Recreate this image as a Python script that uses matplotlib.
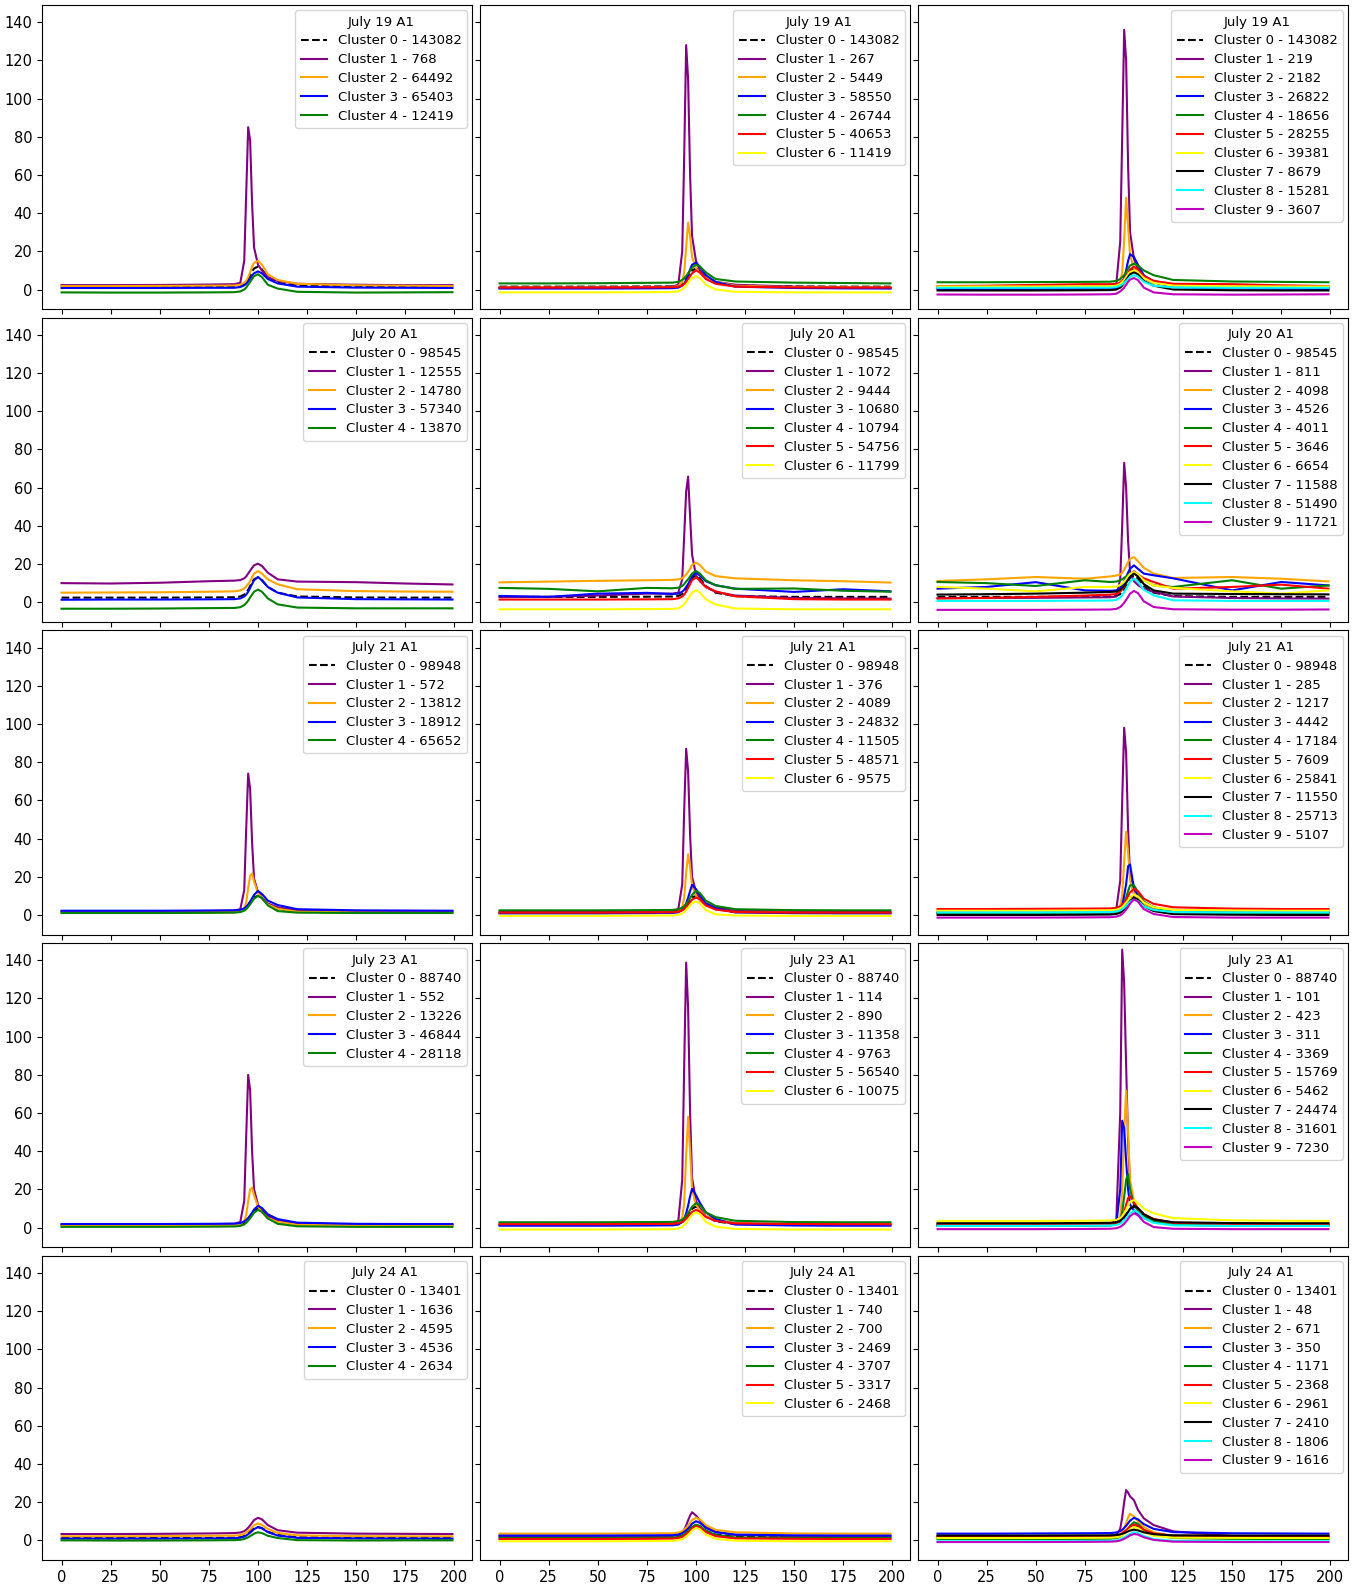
import matplotlib
matplotlib.use("Agg")
import matplotlib.pyplot as plt

# sample positions along the trace (same for every curve)
X = [0, 25, 50, 75, 88, 91, 93, 94, 95, 96, 97, 98, 100, 102, 105, 110, 120, 150, 175, 199]

DAYS = ["July 19 A1", "July 20 A1", "July 21 A1", "July 23 A1", "July 24 A1"]
COLORS = ["black", "purple", "orange", "blue", "green", "red", "yellow", "black", "cyan", "m"]

# ---- July 19 ----
jul19_k5_counts = [143082, 768, 64492, 65403, 12419]
jul19_k5 = [
    [1.5, 1.5, 1.5, 1.6, 1.6, 2.0, 3.0, 4.0, 5.5, 7.5, 9.5, 11.0, 12.0, 10.5, 6.5, 3.5, 2.0, 1.6, 1.5, 1.5],
    [2.3, 2.3, 2.4, 2.6, 2.8, 3.5, 15, 50, 85, 78, 45, 22, 13, 10, 6.5, 4.5, 3.0, 2.5, 2.3, 2.3],
    [1.8, 1.8, 1.9, 2.0, 2.1, 2.5, 3.5, 4.5, 6.5, 9.0, 12.0, 14.0, 15.0, 13.0, 8.0, 5.0, 3.0, 2.2, 2.0, 1.8],
    [0.8, 0.8, 0.8, 0.9, 0.9, 1.3, 2.2, 3.0, 4.3, 5.8, 7.3, 8.5, 9.5, 8.5, 5.5, 3.2, 1.5, 1.0, 0.9, 0.8],
    [-1.5, -1.6, -1.6, -1.5, -1.4, -1.0, 0.0, 1.0, 2.5, 4.0, 5.5, 7.0, 8.0, 6.5, 2.5, 0.5, -1.2, -1.6, -1.5, -1.4],
]
jul19_k7_counts = [143082, 267, 5449, 58550, 26744, 40653, 11419]
jul19_k7 = [
    [1.5, 1.5, 1.5, 1.6, 1.6, 2.0, 3.0, 4.0, 5.5, 7.0, 8.5, 10.0, 11.0, 9.5, 6.0, 3.5, 2.0, 1.6, 1.5, 1.5],
    [1.0, 1.0, 1.1, 1.3, 1.5, 2.5, 20, 70, 128, 110, 60, 28, 15, 10, 6, 4, 2.5, 1.5, 1.2, 1.0],
    [1.0, 1.0, 1.0, 1.1, 1.2, 1.8, 4.0, 9.0, 22, 35, 28, 17, 11, 8.5, 6.0, 4.0, 2.0, 1.2, 1.1, 1.0],
    [0.5, 0.5, 0.5, 0.6, 0.7, 1.0, 2.0, 3.0, 5.0, 7.5, 10.5, 13.0, 14.0, 12.0, 7.5, 4.0, 1.5, 0.8, 0.6, 0.5],
    [3.2, 3.2, 3.3, 3.5, 3.6, 4.0, 5.0, 6.0, 7.0, 8.5, 10.0, 11.5, 13.0, 12.0, 9.0, 5.5, 4.2, 3.6, 3.4, 3.2],
    [1.0, 1.0, 1.0, 1.1, 1.2, 1.5, 2.2, 3.0, 4.0, 5.5, 7.0, 8.5, 10.0, 9.0, 5.5, 3.0, 1.5, 1.1, 1.0, 1.0],
    [-1.5, -1.5, -1.5, -1.4, -1.3, -1.0, 0.0, 1.0, 2.0, 3.5, 5.0, 6.0, 7.0, 6.0, 2.5, 0.0, -1.2, -1.5, -1.5, -1.5],
]
jul19_k10_counts = [143082, 219, 2182, 26822, 18656, 28255, 39381, 8679, 15281, 3607]
jul19_k10 = [
    [1.5, 1.5, 1.5, 1.6, 1.6, 2.0, 3.0, 4.0, 5.5, 7.0, 8.5, 10.0, 11.0, 9.5, 6.0, 3.5, 2.0, 1.6, 1.5, 1.5],
    [1.2, 1.2, 1.3, 1.5, 1.7, 3.0, 25, 80, 136, 120, 65, 30, 16, 11, 7, 4.5, 2.5, 1.6, 1.3, 1.2],
    [1.5, 1.5, 1.5, 1.6, 1.7, 2.2, 4.0, 9.0, 26, 48, 33, 18, 11, 8.5, 6.0, 4.0, 2.2, 1.6, 1.5, 1.5],
    [0.3, 0.3, 0.3, 0.4, 0.5, 0.8, 2.0, 3.5, 6.0, 10.0, 15.0, 18.5, 17.0, 13.0, 7.5, 4.0, 1.2, 0.5, 0.4, 0.3],
    [3.8, 3.8, 3.9, 4.0, 4.1, 4.5, 5.5, 6.5, 7.5, 9.0, 11.0, 12.5, 13.6, 12.5, 10.0, 7.5, 5.0, 4.2, 4.0, 3.8],
    [1.8, 2.0, 2.4, 2.8, 2.8, 3.0, 3.6, 4.3, 5.5, 7.0, 8.5, 10.5, 12.0, 10.5, 7.0, 4.5, 3.0, 2.8, 2.2, 1.8],
    [1.6, 1.6, 1.6, 1.7, 1.7, 2.0, 3.0, 3.8, 5.0, 6.5, 8.0, 9.2, 10.0, 9.0, 6.0, 3.5, 2.0, 1.7, 1.6, 1.6],
    [-0.5, -0.5, -0.5, -0.4, -0.3, 0.0, 1.0, 2.0, 3.5, 5.0, 6.5, 8.0, 9.0, 8.0, 4.5, 2.0, 0.0, -0.4, -0.5, -0.5],
    [0.9, 0.9, 0.9, 1.0, 1.0, 1.3, 2.0, 2.7, 3.5, 4.5, 5.5, 6.7, 7.5, 6.8, 4.0, 2.0, 1.1, 0.9, 0.9, 0.9],
    [-2.6, -2.7, -2.7, -2.6, -2.5, -2.2, -1.0, 0.0, 1.0, 2.5, 4.0, 5.2, 6.0, 5.0, 1.0, -1.5, -2.5, -2.7, -2.6, -2.5],
]

# ---- July 20 ----
jul20_k5_counts = [98545, 12555, 14780, 57340, 13870]
jul20_k5 = [
    [2.4, 2.4, 2.4, 2.5, 2.6, 3.0, 4.0, 5.0, 6.5, 8.5, 10.5, 12.0, 13.0, 11.5, 8.0, 5.0, 3.0, 2.5, 2.4, 2.4],
    [10.0, 9.8, 10.2, 11.0, 11.3, 11.6, 12.5, 13.5, 15.0, 16.5, 18.0, 19.3, 20.2, 19.0, 15.5, 12.0, 10.8, 10.5, 9.8, 9.3],
    [5.0, 5.1, 5.2, 5.5, 5.7, 6.2, 7.2, 8.2, 9.5, 11.0, 13.0, 15.0, 16.3, 15.0, 12.0, 9.4, 6.8, 5.8, 5.6, 5.5],
    [1.3, 1.4, 1.4, 1.5, 1.6, 2.0, 3.0, 4.0, 5.5, 7.5, 9.5, 11.5, 13.2, 11.5, 8.0, 5.0, 2.5, 1.6, 1.5, 1.4],
    [-3.4, -3.4, -3.3, -3.1, -3.0, -2.6, -1.5, -0.5, 0.8, 2.5, 4.0, 5.5, 6.6, 5.5, 2.0, -1.1, -2.8, -3.2, -3.2, -3.2],
]
jul20_k7_counts = [98545, 1072, 9444, 10680, 10794, 54756, 11799]
jul20_k7 = [
    [2.8, 2.8, 2.8, 2.9, 3.0, 3.3, 4.3, 5.5, 7.0, 9.0, 11.0, 12.8, 14.0, 12.5, 8.5, 5.0, 3.2, 2.8, 2.8, 2.8],
    [2.7, 2.8, 3.5, 4.5, 4.5, 5.0, 12, 35, 58, 65.8, 45, 25, 14, 11, 8, 5.4, 3.5, 2.2, 2.0, 1.9],
    [10.4, 10.8, 11.2, 11.5, 11.7, 12.0, 12.5, 13.5, 14.5, 16.0, 17.5, 19.5, 20.7, 19.5, 16.0, 13.7, 12.5, 11.5, 11.0, 10.3],
    [3.3, 2.8, 4.5, 4.9, 4.3, 4.5, 5.5, 6.5, 8.0, 9.5, 11.5, 13.5, 15.5, 14.0, 11.0, 8.9, 7.1, 5.4, 6.8, 5.7],
    [7.5, 7.0, 5.7, 7.5, 7.3, 7.6, 8.5, 9.5, 10.8, 12.0, 13.5, 15.0, 16.4, 15.0, 11.5, 8.9, 7.0, 7.2, 6.0, 5.5],
    [1.4, 1.4, 1.4, 1.5, 1.6, 2.0, 3.0, 4.0, 5.5, 7.5, 9.5, 11.5, 13.0, 11.5, 8.0, 5.7, 3.1, 1.6, 1.4, 1.4],
    [-3.7, -3.7, -3.7, -3.6, -3.5, -3.2, -2.0, -1.0, 0.5, 2.0, 3.5, 5.0, 6.3, 5.0, 1.5, -1.2, -3.3, -3.7, -3.7, -3.7],
]
jul20_k10_counts = [98545, 811, 4098, 4526, 4011, 3646, 6654, 11588, 51490, 11721]
jul20_k10 = [
    [2.8, 2.8, 2.8, 2.9, 3.0, 3.3, 4.3, 5.5, 7.0, 9.0, 11.0, 12.8, 14.0, 12.5, 8.5, 5.0, 3.2, 2.8, 2.8, 2.8],
    [2.2, 2.2, 2.3, 2.5, 2.6, 3.0, 12, 40, 73, 60, 32, 16, 11, 9, 7, 5.4, 3.0, 2.2, 2.0, 1.9],
    [11.1, 12.0, 13.2, 12.3, 13.5, 14.0, 14.5, 15.5, 17.0, 19.0, 21.0, 22.8, 23.6, 21.5, 18.0, 15.0, 12.7, 13.2, 12.3, 10.9],
    [7.1, 8.0, 10.5, 6.2, 6.0, 6.2, 7.5, 9.0, 11.0, 13.0, 15.5, 17.5, 19.3, 17.5, 15.0, 14.1, 12.5, 6.2, 10.6, 8.8],
    [10.6, 10.0, 8.5, 11.5, 10.6, 10.8, 11.5, 12.0, 12.8, 13.5, 14.3, 15.0, 15.8, 14.5, 11.5, 8.8, 8.0, 11.5, 7.1, 8.8],
    [1.9, 2.3, 2.8, 3.5, 4.0, 4.3, 5.5, 6.8, 8.3, 10.0, 12.0, 14.0, 16.2, 14.5, 12.5, 10.6, 7.1, 8.0, 9.2, 7.1],
    [8.0, 7.1, 5.7, 8.0, 8.0, 8.2, 9.0, 9.8, 10.8, 12.0, 13.5, 14.8, 15.8, 14.5, 11.5, 8.8, 7.5, 5.7, 4.5, 6.2],
    [4.0, 4.2, 4.5, 5.0, 5.4, 5.6, 6.5, 7.5, 8.8, 10.2, 11.8, 13.3, 15.0, 13.5, 9.5, 6.2, 4.5, 4.3, 4.2, 4.1],
    [0.7, 0.7, 0.7, 0.8, 0.9, 1.2, 2.5, 3.8, 5.3, 7.0, 8.8, 10.8, 12.3, 10.8, 6.5, 3.6, 1.0, 0.7, 0.7, 0.7],
    [-4.0, -4.0, -4.0, -3.9, -3.8, -3.5, -2.5, -1.5, -0.3, 1.2, 2.8, 4.5, 5.9, 4.8, 0.5, -2.5, -3.7, -3.9, -3.9, -3.8],
]

# ---- July 21 ----
jul21_k5_counts = [98948, 572, 13812, 18912, 65652]
jul21_k5 = [
    [1.4, 1.4, 1.4, 1.5, 1.6, 1.9, 2.7, 3.5, 4.8, 6.3, 7.8, 9.2, 10.0, 9.0, 5.5, 3.0, 1.8, 1.5, 1.4, 1.4],
    [1.8, 1.8, 1.9, 2.1, 2.3, 3.0, 13, 45, 74, 66, 38, 19, 12, 9, 6, 4, 2.5, 2.0, 1.9, 1.8],
    [1.2, 1.2, 1.2, 1.3, 1.4, 1.8, 3.5, 6.5, 14, 20.5, 21.7, 17.5, 11.5, 8.5, 5.5, 3.2, 1.7, 1.3, 1.2, 1.2],
    [2.2, 2.2, 2.2, 2.3, 2.4, 2.7, 3.5, 4.3, 5.5, 7.0, 8.7, 10.5, 12.6, 11.0, 7.5, 5.2, 3.0, 2.4, 2.3, 2.2],
    [1.0, 1.0, 1.0, 1.1, 1.2, 1.5, 2.2, 3.0, 4.2, 5.5, 7.0, 8.5, 10.0, 8.8, 5.0, 2.0, 1.2, 1.0, 1.0, 1.0],
]
jul21_k7_counts = [98948, 376, 4089, 24832, 11505, 48571, 9575]
jul21_k7 = [
    [1.5, 1.5, 1.5, 1.6, 1.7, 2.0, 2.8, 3.6, 4.9, 6.4, 7.9, 9.2, 10.0, 9.0, 5.5, 3.0, 1.9, 1.6, 1.5, 1.5],
    [1.5, 1.5, 1.6, 1.8, 2.0, 3.0, 16, 55, 87, 75, 42, 20, 12, 9, 6, 4, 2.3, 1.7, 1.6, 1.5],
    [1.0, 1.0, 1.0, 1.1, 1.2, 1.7, 4.0, 9.0, 22, 31.8, 25, 15, 10, 7.5, 5, 3, 1.5, 1.1, 1.0, 1.0],
    [0.8, 0.8, 0.8, 0.9, 1.0, 1.4, 2.5, 3.8, 6.0, 9.0, 12.5, 15.7, 13.5, 10.5, 6.0, 3.5, 1.3, 0.9, 0.8, 0.8],
    [2.4, 2.4, 2.4, 2.5, 2.6, 3.0, 3.8, 4.6, 5.8, 7.2, 8.8, 10.5, 12.6, 11.5, 7.5, 4.7, 3.0, 2.5, 2.4, 2.4],
    [1.2, 1.2, 1.2, 1.3, 1.4, 1.7, 2.4, 3.1, 4.2, 5.4, 6.7, 8.0, 9.1, 8.2, 5.0, 2.8, 1.5, 1.2, 1.2, 1.2],
    [-0.5, -0.5, -0.5, -0.4, -0.3, 0.0, 0.8, 1.6, 2.7, 3.8, 5.0, 6.2, 7.0, 6.0, 2.5, 0.3, -0.3, -0.5, -0.5, -0.5],
]
jul21_k10_counts = [98948, 285, 1217, 4442, 17184, 7609, 25841, 11550, 25713, 5107]
jul21_k10 = [
    [1.5, 1.5, 1.5, 1.6, 1.7, 2.0, 2.8, 3.6, 4.9, 6.4, 7.9, 9.2, 10.0, 9.0, 5.5, 3.0, 1.9, 1.6, 1.5, 1.5],
    [1.5, 1.5, 1.6, 1.8, 2.0, 3.0, 18, 60, 98, 85, 45, 20, 11, 8, 5, 3.5, 2.2, 1.7, 1.6, 1.5],
    [2.2, 2.2, 2.2, 2.3, 2.4, 3.0, 5.0, 10, 28, 43.5, 33, 18, 11, 8, 5.5, 3.8, 2.6, 2.3, 2.2, 2.2],
    [1.0, 1.0, 1.0, 1.1, 1.2, 1.6, 3.0, 5.0, 10, 16, 25.5, 26.4, 14, 10, 6.5, 4.0, 1.5, 1.1, 1.0, 1.0],
    [1.0, 1.0, 1.0, 1.1, 1.2, 1.5, 2.5, 3.8, 6.0, 9.0, 12.5, 15.5, 15.5, 12.0, 7.0, 4.0, 1.5, 1.1, 1.0, 1.0],
    [3.1, 3.1, 3.2, 3.3, 3.4, 3.7, 4.5, 5.3, 6.5, 8.0, 9.8, 11.8, 13.6, 12.5, 8.5, 5.8, 4.0, 3.3, 3.1, 3.1],
    [2.2, 2.2, 2.2, 2.3, 2.4, 2.7, 3.4, 4.1, 5.2, 6.4, 7.7, 9.2, 10.7, 9.7, 6.5, 4.0, 2.6, 2.3, 2.2, 2.2],
    [0.0, 0.0, 0.0, 0.1, 0.2, 0.5, 1.2, 2.0, 3.0, 4.2, 5.5, 7.3, 9.0, 8.0, 4.5, 2.0, 0.4, 0.1, 0.0, 0.0],
    [1.3, 1.3, 1.3, 1.4, 1.5, 1.8, 2.4, 3.0, 3.8, 4.8, 5.8, 7.0, 8.0, 7.2, 4.5, 2.6, 1.5, 1.3, 1.3, 1.3],
    [-1.4, -1.4, -1.4, -1.3, -1.2, -0.9, -0.2, 0.5, 1.6, 2.8, 4.2, 6.0, 8.1, 7.0, 3.0, 0.5, -1.1, -1.4, -1.4, -1.4],
]

# ---- July 23 ----
jul23_k5_counts = [88740, 552, 13226, 46844, 28118]
jul23_k5 = [
    [1.2, 1.2, 1.2, 1.3, 1.4, 1.7, 2.5, 3.3, 4.5, 6.0, 7.5, 9.0, 10.0, 9.0, 5.5, 3.0, 1.6, 1.3, 1.2, 1.2],
    [1.5, 1.5, 1.6, 1.8, 2.0, 3.0, 14, 48, 80, 72, 40, 20, 12, 9, 6, 4, 2.2, 1.7, 1.6, 1.5],
    [1.0, 1.0, 1.0, 1.1, 1.2, 1.7, 3.5, 6.5, 14, 20, 21, 17, 11, 8, 5, 3, 1.5, 1.1, 1.0, 1.0],
    [1.9, 1.9, 1.9, 2.0, 2.1, 2.4, 3.2, 4.0, 5.0, 6.3, 7.8, 9.5, 11.4, 10.3, 7.0, 4.5, 2.6, 2.0, 1.9, 1.9],
    [0.4, 0.4, 0.4, 0.5, 0.6, 0.9, 1.7, 2.5, 3.6, 4.9, 6.3, 7.8, 9.3, 8.3, 4.8, 2.0, 0.7, 0.4, 0.4, 0.4],
]
jul23_k7_counts = [88740, 114, 890, 11358, 9763, 56540, 10075]
jul23_k7 = [
    [1.5, 1.5, 1.5, 1.6, 1.7, 2.0, 2.9, 3.8, 5.2, 6.8, 8.4, 9.9, 11.0, 9.8, 6.0, 3.3, 1.9, 1.6, 1.5, 1.5],
    [1.5, 1.5, 1.6, 1.8, 2.0, 3.5, 25, 85, 138.8, 115, 60, 26, 14, 10, 6, 4, 2.3, 1.7, 1.6, 1.5],
    [1.5, 1.5, 1.5, 1.6, 1.7, 2.3, 5.0, 13, 38, 58, 40, 20, 12, 9, 6, 4, 2.2, 1.6, 1.5, 1.5],
    [1.0, 1.0, 1.0, 1.1, 1.2, 1.6, 3.0, 4.5, 7.5, 11.5, 16.5, 20.3, 17, 13, 8, 4.5, 1.6, 1.1, 1.0, 1.0],
    [2.8, 2.8, 2.8, 2.9, 3.0, 3.4, 4.2, 5.0, 6.2, 7.6, 9.2, 11.0, 12.8, 11.8, 8.0, 5.5, 3.6, 2.9, 2.8, 2.8],
    [1.8, 1.8, 1.8, 1.9, 2.0, 2.3, 3.0, 3.7, 4.7, 5.9, 7.1, 8.3, 9.3, 8.4, 5.6, 3.5, 2.2, 1.9, 1.8, 1.8],
    [-1.0, -1.0, -1.0, -0.9, -0.8, -0.5, 0.4, 1.3, 2.5, 3.8, 5.2, 6.8, 8.0, 7.0, 3.0, 0.5, -0.7, -1.0, -1.0, -1.0],
]
jul23_k10_counts = [88740, 101, 423, 311, 3369, 15769, 5462, 24474, 31601, 7230]
jul23_k10 = [
    [1.5, 1.5, 1.5, 1.6, 1.7, 2.0, 2.9, 3.8, 5.2, 6.8, 8.4, 9.9, 11.0, 9.8, 6.0, 3.3, 1.9, 1.6, 1.5, 1.5],
    [1.5, 1.5, 1.6, 1.8, 2.0, 4.0, 60, 145.6, 128, 85, 45, 22, 13, 9, 6, 4, 2.3, 1.7, 1.6, 1.5],
    [2.0, 2.0, 2.0, 2.1, 2.2, 2.8, 6.0, 18, 50, 71.7, 50, 25, 14, 10, 7, 4.5, 2.6, 2.1, 2.0, 2.0],
    [1.0, 1.0, 1.0, 1.1, 1.2, 2.0, 20, 56, 52, 35, 20, 12, 9, 7, 5, 3, 1.5, 1.1, 1.0, 1.0],
    [1.0, 1.0, 1.0, 1.1, 1.2, 1.8, 4, 8, 16, 25, 28, 20, 12, 9, 6, 3.5, 1.5, 1.1, 1.0, 1.0],
    [1.8, 1.8, 1.8, 1.9, 2.0, 2.5, 3.5, 5.0, 8.0, 12, 15.5, 16.5, 13, 10, 7, 4.5, 2.5, 1.9, 1.8, 1.8],
    [3.5, 3.5, 3.5, 3.6, 3.7, 4.0, 5.0, 6.0, 7.5, 9.5, 11.5, 13.5, 14.5, 13, 10, 7.5, 5.0, 3.8, 3.6, 3.5],
    [2.3, 2.3, 2.3, 2.4, 2.5, 2.8, 3.6, 4.4, 5.5, 6.8, 8.2, 9.8, 11.5, 10.3, 7.0, 4.3, 2.8, 2.4, 2.3, 2.3],
    [0.9, 0.9, 0.9, 1.0, 1.1, 1.4, 2.1, 2.8, 3.8, 4.9, 6.1, 7.5, 9.0, 8.0, 5.0, 2.5, 1.2, 0.9, 0.9, 0.9],
    [-0.8, -0.8, -0.8, -0.7, -0.6, -0.3, 0.4, 1.1, 2.0, 3.2, 4.5, 6.0, 7.5, 6.5, 3.0, 0.3, -0.6, -0.8, -0.8, -0.8],
]

# ---- July 24 ----
jul24_k5_counts = [13401, 1636, 4595, 4536, 2634]
jul24_k5 = [
    [1.2, 1.2, 1.2, 1.3, 1.4, 1.6, 2.2, 2.8, 3.6, 4.5, 5.4, 6.3, 7.0, 6.4, 4.5, 2.8, 1.6, 1.3, 1.2, 1.2],
    [3.3, 3.3, 3.4, 3.6, 3.8, 4.1, 4.8, 5.6, 6.6, 7.8, 9.2, 10.6, 11.8, 11.0, 8.0, 5.3, 4.0, 3.5, 3.4, 3.3],
    [2.1, 2.1, 2.2, 2.4, 2.5, 2.8, 3.4, 4.0, 4.8, 5.8, 6.8, 7.9, 8.8, 8.1, 6.0, 3.9, 2.6, 2.2, 2.1, 2.1],
    [0.9, 0.9, 0.9, 1.0, 1.1, 1.4, 1.9, 2.5, 3.2, 4.0, 4.9, 5.9, 6.9, 6.3, 4.3, 2.5, 1.3, 1.0, 0.9, 0.9],
    [0.0, -0.1, -0.1, 0.0, 0.1, 0.3, 0.7, 1.1, 1.6, 2.2, 2.8, 3.5, 4.2, 3.8, 2.4, 1.2, 0.1, -0.1, 0.0, 0.0],
]
jul24_k7_counts = [13401, 740, 700, 2469, 3707, 3317, 2468]
jul24_k7 = [
    [1.5, 1.5, 1.5, 1.6, 1.7, 1.9, 2.5, 3.1, 4.0, 5.0, 6.0, 7.1, 8.0, 7.3, 5.0, 3.0, 1.8, 1.6, 1.5, 1.5],
    [2.1, 2.1, 2.1, 2.2, 2.3, 2.8, 4.0, 5.5, 7.8, 10.5, 13.0, 14.7, 13.0, 10.5, 7.0, 4.5, 2.8, 2.2, 2.1, 2.1],
    [3.5, 3.5, 3.5, 3.6, 3.7, 4.0, 4.8, 5.6, 6.6, 7.8, 9.2, 10.6, 11.8, 11.0, 8.0, 5.5, 4.2, 3.6, 3.5, 3.5],
    [2.5, 2.5, 2.5, 2.6, 2.7, 3.0, 3.7, 4.4, 5.2, 6.2, 7.3, 8.7, 10.0, 9.2, 6.5, 4.2, 3.0, 2.6, 2.5, 2.5],
    [1.2, 1.2, 1.2, 1.3, 1.4, 1.7, 2.4, 3.1, 3.9, 4.8, 5.8, 7.0, 8.2, 7.5, 5.0, 2.8, 1.5, 1.3, 1.2, 1.2],
    [0.7, 0.7, 0.7, 0.8, 0.9, 1.2, 1.8, 2.5, 3.3, 4.2, 5.1, 6.3, 7.4, 6.7, 4.3, 2.2, 1.0, 0.8, 0.7, 0.7],
    [-0.5, -0.5, -0.5, -0.4, -0.3, 0.0, 0.6, 1.2, 2.0, 2.9, 3.9, 5.2, 6.5, 5.8, 3.0, 0.8, -0.2, -0.5, -0.5, -0.5],
]
jul24_k10_counts = [13401, 48, 671, 350, 1171, 2368, 2961, 2410, 1806, 1616]
jul24_k10 = [
    [1.5, 1.5, 1.5, 1.6, 1.7, 1.9, 2.5, 3.1, 4.0, 5.0, 6.0, 7.1, 8.0, 7.3, 5.0, 3.0, 1.8, 1.6, 1.5, 1.5],
    [2.0, 2.0, 2.0, 2.1, 2.3, 3.0, 6.0, 12, 20, 26.3, 25, 23, 21, 16, 11.5, 8, 4.7, 2.3, 2.1, 2.0],
    [1.2, 1.2, 1.2, 1.3, 1.4, 1.8, 3.0, 4.5, 6.5, 9.0, 12, 13.9, 12.5, 10, 7, 4.2, 2.0, 1.3, 1.2, 1.2],
    [3.5, 3.5, 3.6, 3.7, 3.8, 4.1, 4.8, 5.5, 6.5, 7.6, 8.9, 10.3, 11.8, 11.0, 8.5, 6.0, 4.3, 3.7, 3.6, 3.5],
    [0.7, 0.7, 0.7, 0.8, 0.9, 1.2, 1.9, 2.6, 3.6, 4.7, 5.9, 7.6, 9.5, 8.6, 5.5, 3.0, 1.2, 0.8, 0.7, 0.7],
    [2.1, 2.1, 2.1, 2.2, 2.3, 2.5, 3.1, 3.7, 4.5, 5.3, 6.2, 7.2, 8.3, 7.7, 5.5, 3.6, 2.5, 2.2, 2.1, 2.1],
    [1.2, 1.2, 1.2, 1.3, 1.4, 1.6, 2.1, 2.6, 3.3, 4.1, 4.9, 5.9, 7.0, 6.4, 4.2, 2.4, 1.4, 1.3, 1.2, 1.2],
    [2.5, 2.5, 2.5, 2.6, 2.6, 2.8, 3.1, 3.4, 3.8, 4.2, 4.7, 5.1, 5.6, 5.2, 4.2, 3.2, 2.6, 2.5, 2.5, 2.5],
    [-0.5, -0.5, -0.5, -0.4, -0.3, -0.1, 0.4, 0.9, 1.5, 2.1, 2.7, 3.4, 4.2, 3.8, 2.2, 0.6, -0.3, -0.5, -0.5, -0.5],
    [-0.9, -0.9, -0.9, -0.8, -0.7, -0.5, -0.1, 0.3, 0.8, 1.3, 1.9, 2.6, 3.3, 3.0, 1.6, 0.2, -0.7, -0.9, -0.9, -0.9],
]

panels = [
    [(jul19_k5_counts, jul19_k5), (jul19_k7_counts, jul19_k7), (jul19_k10_counts, jul19_k10)],
    [(jul20_k5_counts, jul20_k5), (jul20_k7_counts, jul20_k7), (jul20_k10_counts, jul20_k10)],
    [(jul21_k5_counts, jul21_k5), (jul21_k7_counts, jul21_k7), (jul21_k10_counts, jul21_k10)],
    [(jul23_k5_counts, jul23_k5), (jul23_k7_counts, jul23_k7), (jul23_k10_counts, jul23_k10)],
    [(jul24_k5_counts, jul24_k5), (jul24_k7_counts, jul24_k7), (jul24_k10_counts, jul24_k10)],
]

fig, axes = plt.subplots(5, 3, figsize=(13.68, 15.85), dpi=100, sharex=True, sharey=True)
fig.subplots_adjust(left=42 / 1368, right=1348 / 1368, top=1 - 5 / 1585,
                    bottom=1 - 1560 / 1585, wspace=0.0186, hspace=0.028)

for r, row in enumerate(panels):
    for c, (counts, curves) in enumerate(row):
        ax = axes[r, c]
        for k, (n, ys) in enumerate(zip(counts, curves)):
            style = "--" if k == 0 else "-"
            ax.plot(X, ys, style, color=COLORS[k], lw=1.5,
                    label=f"Cluster {k} - {n}")
        ax.legend(loc="upper right", title=DAYS[r], fontsize=9.5, title_fontsize=9.5,
                  labelspacing=0.44, borderaxespad=0.4)
        ax.tick_params(labelsize=10.5)

axes[0, 0].set_xlim(-9.95, 208.95)
axes[0, 0].set_ylim(-10.3, 149)
axes[0, 0].set_xticks(range(0, 201, 25))
axes[0, 0].set_yticks(range(0, 141, 20))

fig.savefig("out.png", dpi=100)
